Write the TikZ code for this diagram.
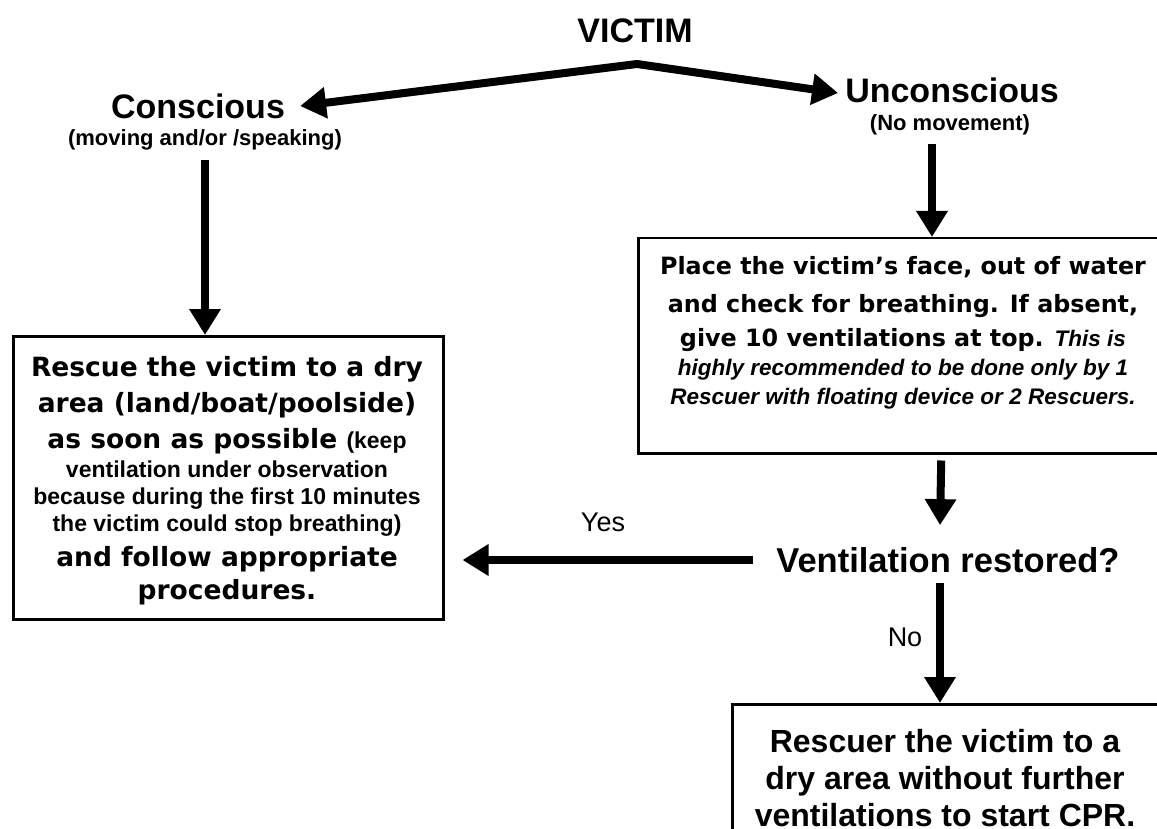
\documentclass[tikz,border=0pt]{standalone}
\usepackage{fontspec}
\setmainfont{Liberation Sans}
\newfontfamily\dejavu{DejaVu Sans}
\usetikzlibrary{arrows.meta,calc}
\newcommand\lbig{\dejavu\bfseries\fontsize{26.5}{36}\selectfont}
\newcommand\lsmall{\rmfamily\bfseries\fontsize{23}{27}\selectfont}
\newcommand\rbig{\dejavu\bfseries\fontsize{23.8}{36}\selectfont}
\newcommand\rital{\rmfamily\bfseries\itshape\fontsize{22.5}{29}\selectfont}
\begin{document}
\begin{tikzpicture}[x=1pt,y=1pt,
  fat/.style={line width=8pt,-{Triangle[length=26pt,width=30pt]}},
  box/.style={draw,line width=2.5pt,inner sep=0pt},
  head/.style={font=\fontsize{34}{40}\selectfont\bfseries,inner sep=0pt},
  sub/.style={font=\fontsize{22}{26}\selectfont\bfseries,inner sep=0pt},
  lab/.style={font=\fontsize{27}{32}\selectfont,inner sep=0pt},
  txt/.style={inner sep=0pt,align=center}
]
\useasboundingbox (0,0) rectangle (1157,-829);
\clip (0,0) rectangle (1157,-829);
\fill[white] (0,0) rectangle (1157,-829);

\node[head] (victim) at (635,-31) {VICTIM};
\coordinate (apex) at (637,-64);
\node[head] (conscious) at (198,-106) {Conscious};
\node[sub] (csub) at (205,-140) {(moving and/or /speaking)};
\node[head] (unconscious) at (952,-90) {Unconscious};
\node[sub] (usub) at (950,-125) {(No movement)};

\draw[line width=8pt,line join=miter,
  {Triangle[length=26pt,width=30pt]}-{Triangle[length=26pt,width=30pt]}]
  ($(conscious.east)+(15,0)$) -- (apex) -- ($(unconscious.west)+(-7,-3)$);

% left box
\node[box,anchor=north west,minimum width=430pt,minimum height=283pt] (lbox) at (12,-335) {};
\node[txt,anchor=north,font=\lbig] (ltext) at (227,-356) {%
Rescue the victim to a dry\\
area (land/boat/poolside)\\
as soon as possible {\lsmall (keep}\\[-7pt]
{\lsmall ventilation under observation}\\[-9pt]
{\lsmall because during the first 10 minutes}\\[-9pt]
{\lsmall the victim could stop breathing)}\\[-1pt]
and follow appropriate\\[-3pt]
procedures.};

\coordinate (c1) at ($(csub.south)+(0,-9)$);
\draw[fat] (c1) -- (c1 |- lbox.north);

% right box
\node[box,anchor=north west,minimum width=532pt,minimum height=215pt] (rbox) at (637,-237) {};
\node[txt,anchor=north,font=\rbig] (rtext) at (903,-256) {%
Place the victim’s face, out of water\\[2pt]
and check for breathing. If absent,\\[-2pt]
give 10 ventilations at top. {\rital This is}\\[-7pt]
{\rital highly recommended to be done only by 1}\\[-7pt]
{\rital Rescuer with floating device or 2 Rescuers.}};

\coordinate (u1) at ($(usub.south)+(-18,-9)$);
\draw[fat] (u1) -- (u1 |- rbox.north);

% decision
\node[inner sep=0pt,font=\fontsize{34.5}{40}\selectfont\bfseries] (vent) at (948,-560) {Ventilation restored?};
\coordinate (r1) at ($(rbox.south)+(37,-6)$);
\coordinate (r2) at ($(vent.north)+(-8,22)$);
\draw[fat] (r1) -- (r2);

\coordinate (y1) at ($(vent.west)+(-23,0)$);
\draw[fat] (y1) -- ($(lbox.east |- y1)+(18,0)$);
\node[lab] (yes) at (603,-522) {Yes};

% bottom box
\node[box,anchor=north west,minimum width=430pt,minimum height=160pt] (bbox) at (731,-703) {};
\coordinate (n1) at ($(vent.south)+(-8,-10)$);
\draw[fat] (n1) -- (n1 |- bbox.north);
\node[lab] (no) at (905,-637) {No};

\node[txt,anchor=north,font=\bfseries\fontsize{32}{37}\selectfont] (btext) at (945,-729) {%
Rescuer the victim to a\\
dry area without further\\
ventilations to start CPR.};
\end{tikzpicture}
\end{document}
